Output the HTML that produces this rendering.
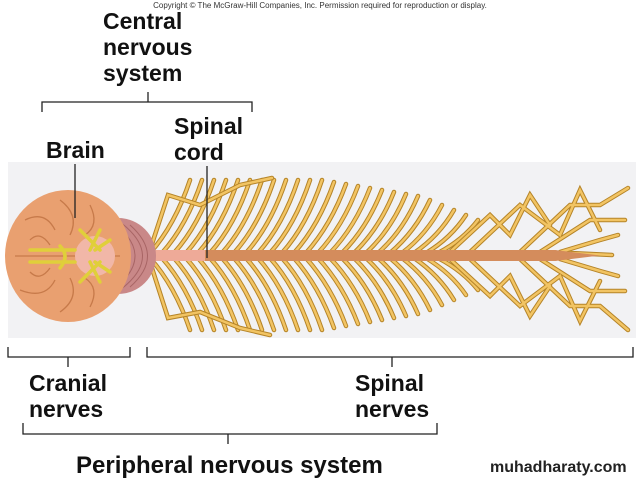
<!DOCTYPE html>
<html><head><style>
body{margin:0;width:640px;height:480px;background:#fff;overflow:hidden;font-family:"Liberation Sans",sans-serif}
svg{position:absolute;left:0;top:0}
</style></head><body>
<svg width="640" height="480" viewBox="0 0 640 480">
<defs>
<path id="top" d="M150 253 Q175 225 190 180 M162 253 Q187 225 202 180 M174 253 Q199 225 214 180 M186 253 Q211 225 226 180 M198 253 Q223 225 238 180 M210 253 Q235 225 250 180 M222 253 Q247 225 262 180 M234 253 Q259 225 274 180 M246 253 Q271 225 286 180 M258 253 Q283 225 298 180 M270 253 Q295 225 310 180 M282 253 Q307 225 322 180 M294 253 Q319 225 334 182 M306 253 Q331 225 346 184 M318 253 Q343 226 358 186 M330 253 Q355 227 370 188 M342 253 Q367 228 382 190 M354 253 Q379 229 394 192 M366 253 Q391 230 406 194 M378 253 Q403 231 418 196 M390 253 Q415 232 430 200 M402 253 Q427 234 442 205 M414 253 Q439 236 454 210 M426 253 Q451 238 466 215 M438 253 Q463 240 478 220"/>
<path id="bot" d="M150 258 Q175 286 190 330 M162 258 Q187 286 202 330 M174 258 Q199 286 214 330 M186 258 Q211 286 226 330 M198 258 Q223 286 238 330 M210 258 Q235 286 250 330 M222 258 Q247 286 262 330 M234 258 Q259 286 274 330 M246 258 Q271 286 286 330 M258 258 Q283 286 298 330 M270 258 Q295 286 310 330 M282 258 Q307 286 322 330 M294 258 Q319 286 334 328 M306 258 Q331 286 346 326 M318 258 Q343 285 358 324 M330 258 Q355 284 370 322 M342 258 Q367 283 382 320 M354 258 Q379 282 394 318 M366 258 Q391 281 406 316 M378 258 Q403 280 418 314 M390 258 Q415 279 430 310 M402 258 Q427 277 442 305 M414 258 Q439 275 454 300 M426 258 Q451 273 466 295 M438 258 Q463 271 478 290"/>
<path id="plex" d="M450 252 L490 215 L510 235 L530 195 L550 225 M470 252 L520 205 L560 235 L580 190 L600 230 M520 252 L570 205 L600 205 L628 188 M540 252 L590 220 L625 220 M560 252 L600 240 L618 235 M570 253 L612 255 M450 259 L490 296 L510 276 L530 316 L550 286 M470 259 L520 306 L560 276 L580 321 L600 281 M520 259 L570 306 L600 306 L628 330 M540 259 L590 291 L625 291 M560 259 L600 271 L618 276 M150 250 L168 195 L200 205 L240 185 L272 178 M150 262 L168 318 L200 312 L240 328 L270 335"/>
</defs>
<rect x="8" y="162" width="628" height="176" fill="#f2f2f4"/>
<g fill="none" stroke-linecap="round">
<use href="#top" stroke="#b58428" stroke-width="4.5"/><use href="#top" stroke="#f2c463" stroke-width="2.5"/>
<use href="#bot" stroke="#b58428" stroke-width="4.5"/><use href="#bot" stroke="#f2c463" stroke-width="2.5"/>
<use href="#plex" stroke="#b58428" stroke-width="4.5"/><use href="#plex" stroke="#f2c463" stroke-width="2.5"/>
</g>
<rect x="140" y="250" width="420" height="11" rx="5" fill="#d48c5c"/>
<path d="M555 250 L600 255.5 L555 261 Z" fill="#d48c5c"/>
<rect x="130" y="250" width="75" height="11" fill="#eeaa98"/>
<circle cx="118" cy="256" r="38" fill="#c98888"/>
<g stroke="#a86565" stroke-width="1" fill="none">
<path d="M100 222 Q150 256 100 290"/><path d="M110 220 Q160 256 110 292"/><path d="M120 222 Q165 256 120 290"/><path d="M130 225 Q165 256 130 287"/>
</g>
<ellipse cx="68" cy="256" rx="63" ry="66" fill="#e9a070"/>
<g stroke="#c77a4a" stroke-width="1.3" fill="none">
<path d="M15 256 H120"/><path d="M25 220 Q45 210 55 230"/><path d="M20 290 Q45 300 55 280"/><path d="M60 200 Q80 215 70 235"/><path d="M60 312 Q80 298 70 278"/><path d="M30 240 Q40 230 50 245"/><path d="M30 272 Q40 282 50 268"/><path d="M90 205 Q100 225 85 235"/><path d="M90 307 Q100 288 85 278"/>
</g>
<circle cx="95" cy="256" r="20" fill="#f1b7a8"/>
<g stroke="#e0cf3a" stroke-width="3.5" fill="none" stroke-linecap="round">
<path d="M30 250 H75 M30 262 H75 M60 246 Q70 256 60 268"/><path d="M80 230 L100 250 M80 282 L100 262 M100 230 L90 250 M100 282 L90 262 M110 240 L95 250 M110 272 L95 262"/>
</g>
<g stroke="#222" stroke-width="1.3" fill="none">
<path d="M75 164 V218"/><path d="M207 166 V258"/>
<path d="M42 112 V102 H252 V112 M148 102 V92"/>
<path d="M8 347 V357 H130 V347 M68 357 V367"/>
<path d="M147 347 V357 H633 V347 M392 357 V367"/>
<path d="M23 423 V434 H437 V423 M228 434 V444"/>
</g>
<g font-size="23" fill="#111" font-weight="bold">
<text x="103" y="29">Central</text><text x="103" y="55">nervous</text><text x="103" y="81">system</text>
<text x="46" y="158">Brain</text>
<text x="174" y="134">Spinal</text><text x="174" y="160">cord</text>
<text x="29" y="391">Cranial</text><text x="29" y="417">nerves</text>
<text x="355" y="391">Spinal</text><text x="355" y="417">nerves</text>
<text x="76" y="473" font-size="24">Peripheral nervous system</text>
</g>
<text x="320" y="8" font-size="8" fill="#333" text-anchor="middle">Copyright © The McGraw-Hill Companies, Inc. Permission required for reproduction or display.</text>
<text x="490" y="472" font-size="16" fill="#222" font-weight="bold">muhadharaty.com</text>
</svg>
</body></html>
